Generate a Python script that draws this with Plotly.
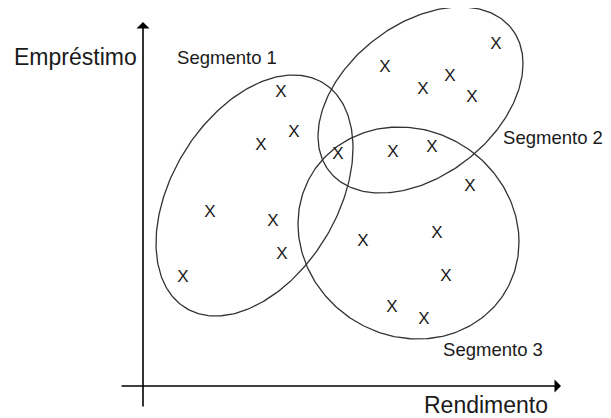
import numpy as np
import plotly.graph_objects as go

# diagram drawn in pixel space: x to the right, y downwards
seg1_x = [281, 294, 261, 210, 273, 282, 183]
seg1_y = [93, 133, 146, 213, 222, 255, 278]
seg2_x = [496, 385, 450, 423, 472, 338, 393, 432]
seg2_y = [45, 68, 77, 90, 98, 155, 153, 148]
seg3_x = [470, 363, 437, 446, 392, 424]
seg3_y = [187, 242, 234, 277, 308, 320]

# ellipse outlines: centre and spread matrix [[sxx, sxy], [sxy, syy]]
ellipse_names = ["Segmento 1", "Segmento 2", "Segmento 3"]
ellipse_cx = [254.5, 420.5, 408.5]
ellipse_cy = [195.5, 100, 233]
ellipse_sxx = [9702, 10506, 12210]
ellipse_syy = [14520, 8649, 11236]
ellipse_sxy = [-4700, -3720, 1000]

label_text = ["Segmento 1", "Segmento 2", "Segmento 3"]
label_x = [227, 553, 493]
label_y = [59, 139, 351]

fig = go.Figure()

t = np.linspace(0, 2 * np.pi, 300)
for name, cx, cy, sxx, syy, sxy in zip(ellipse_names, ellipse_cx, ellipse_cy,
                                       ellipse_sxx, ellipse_syy, ellipse_sxy):
    L = np.linalg.cholesky(np.array([[sxx, sxy], [sxy, syy]], dtype=float))
    pts = L @ np.vstack([np.cos(t), np.sin(t)])
    fig.add_trace(go.Scatter(
        x=cx + pts[0], y=cy + pts[1], mode="lines", name=name,
        line=dict(color="#333333", width=1.3), hoverinfo="skip",
    ))

xs = seg1_x + seg2_x + seg3_x
ys = seg1_y + seg2_y + seg3_y
fig.add_trace(go.Scatter(
    x=xs, y=ys, mode="text", text=["X"] * len(xs),
    textfont=dict(family="Liberation Sans, Arial", size=17, color="#1a1a1a"),
    textposition="middle center", hoverinfo="skip",
))

fig.add_trace(go.Scatter(
    x=label_x, y=label_y, mode="text", text=label_text,
    textfont=dict(family="Liberation Sans, Arial", size=18.5, color="#1a1a1a"),
    textposition="middle center", hoverinfo="skip", cliponaxis=False,
))

# axes with arrowheads
arrow = dict(text="", showarrow=True, arrowhead=1, arrowsize=1.35, arrowwidth=1.6,
             arrowcolor="black", xref="x", yref="y", axref="x", ayref="y")
fig.add_annotation(x=143, y=22, ax=143, ay=408, **arrow)
fig.add_annotation(x=561, y=386, ax=120, ay=386, **arrow)

fig.add_annotation(x=75.5, y=57, text="Empréstimo", showarrow=False,
                   font=dict(family="Liberation Sans, Arial", size=23, color="#1a1a1a"))
fig.add_annotation(x=486, y=405, text="Rendimento", showarrow=False,
                   font=dict(family="Liberation Sans, Arial", size=23, color="#1a1a1a"))

# the page body adds an 8px offset, so the ranges start at 8
fig.update_xaxes(range=[8, 611], visible=False)
fig.update_yaxes(range=[418, 8], visible=False)
fig.update_layout(
    width=603, height=410,
    margin=dict(l=0, r=0, t=0, b=0),
    showlegend=False,
    plot_bgcolor="white", paper_bgcolor="white",
)

fig.write_html("out.html")
